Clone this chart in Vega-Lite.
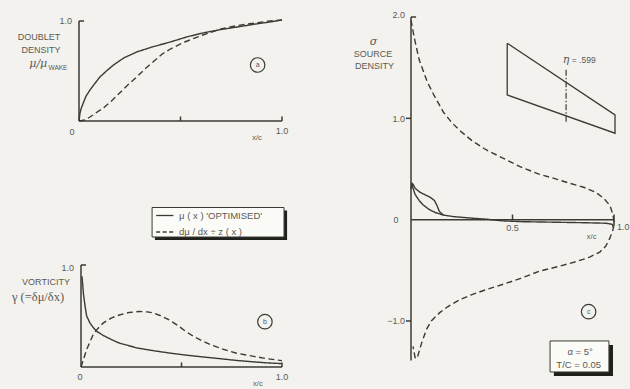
{
  "$schema": "https://vega.github.io/schema/vega-lite/v6.json",
  "width": 630,
  "height": 389,
  "autosize": {"type": "none"},
  "padding": 0,
  "background": "#f3f2ee",
  "config": {
    "view": {"stroke": null},
    "mark": {"color": "#5a5a55"},
    "text": {"font": "Liberation Sans", "fontSize": 9, "color": "#5a5a55", "fill": "#5a5a55"},
    "rule": {"color": "#3b3b34", "strokeWidth": 1.5},
    "line": {"color": "#3b3b34", "strokeWidth": 1.4}
  },
  "resolve": {"scale": {"x": "independent", "y": "independent"}},
  "data": {"values": [{}]},
  "datasets": {
    "doublet": [
      {"x": 0, "y": 0, "series": "optimised"},
      {"x": 0.005, "y": 0.08, "series": "optimised"},
      {"x": 0.01, "y": 0.12, "series": "optimised"},
      {"x": 0.021, "y": 0.18, "series": "optimised"},
      {"x": 0.035, "y": 0.25, "series": "optimised"},
      {"x": 0.054, "y": 0.31, "series": "optimised"},
      {"x": 0.08, "y": 0.38, "series": "optimised"},
      {"x": 0.103, "y": 0.44, "series": "optimised"},
      {"x": 0.135, "y": 0.5, "series": "optimised"},
      {"x": 0.17, "y": 0.56, "series": "optimised"},
      {"x": 0.22, "y": 0.63, "series": "optimised"},
      {"x": 0.284, "y": 0.69, "series": "optimised"},
      {"x": 0.36, "y": 0.74, "series": "optimised"},
      {"x": 0.45, "y": 0.79, "series": "optimised"},
      {"x": 0.53, "y": 0.84, "series": "optimised"},
      {"x": 0.61, "y": 0.88, "series": "optimised"},
      {"x": 0.7, "y": 0.915, "series": "optimised"},
      {"x": 0.78, "y": 0.94, "series": "optimised"},
      {"x": 0.87, "y": 0.97, "series": "optimised"},
      {"x": 0.94, "y": 0.99, "series": "optimised"},
      {"x": 1.0, "y": 1.01, "series": "optimised"},
      {"x": 0, "y": 0, "series": "dmu_dx"},
      {"x": 0.03, "y": 0.01, "series": "dmu_dx"},
      {"x": 0.054, "y": 0.04, "series": "dmu_dx"},
      {"x": 0.09, "y": 0.09, "series": "dmu_dx"},
      {"x": 0.12, "y": 0.13, "series": "dmu_dx"},
      {"x": 0.16, "y": 0.2, "series": "dmu_dx"},
      {"x": 0.2, "y": 0.28, "series": "dmu_dx"},
      {"x": 0.24, "y": 0.36, "series": "dmu_dx"},
      {"x": 0.284, "y": 0.44, "series": "dmu_dx"},
      {"x": 0.33, "y": 0.53, "series": "dmu_dx"},
      {"x": 0.37, "y": 0.6, "series": "dmu_dx"},
      {"x": 0.41, "y": 0.67, "series": "dmu_dx"},
      {"x": 0.45, "y": 0.72, "series": "dmu_dx"},
      {"x": 0.52, "y": 0.79, "series": "dmu_dx"},
      {"x": 0.61, "y": 0.86, "series": "dmu_dx"},
      {"x": 0.7, "y": 0.92, "series": "dmu_dx"},
      {"x": 0.78, "y": 0.955, "series": "dmu_dx"},
      {"x": 0.87, "y": 0.98, "series": "dmu_dx"},
      {"x": 0.94, "y": 1.0, "series": "dmu_dx"},
      {"x": 1.0, "y": 1.01, "series": "dmu_dx"}
    ],
    "vorticity": [
      {"x": 0.005, "y": 0.89, "series": "optimised"},
      {"x": 0.008, "y": 0.82, "series": "optimised"},
      {"x": 0.012, "y": 0.72, "series": "optimised"},
      {"x": 0.02, "y": 0.6, "series": "optimised"},
      {"x": 0.028, "y": 0.5, "series": "optimised"},
      {"x": 0.045, "y": 0.43, "series": "optimised"},
      {"x": 0.06, "y": 0.39, "series": "optimised"},
      {"x": 0.078, "y": 0.35, "series": "optimised"},
      {"x": 0.11, "y": 0.31, "series": "optimised"},
      {"x": 0.15, "y": 0.27, "series": "optimised"},
      {"x": 0.19, "y": 0.235, "series": "optimised"},
      {"x": 0.28, "y": 0.186, "series": "optimised"},
      {"x": 0.36, "y": 0.16, "series": "optimised"},
      {"x": 0.44, "y": 0.137, "series": "optimised"},
      {"x": 0.52, "y": 0.117, "series": "optimised"},
      {"x": 0.61, "y": 0.098, "series": "optimised"},
      {"x": 0.69, "y": 0.082, "series": "optimised"},
      {"x": 0.77, "y": 0.065, "series": "optimised"},
      {"x": 0.86, "y": 0.05, "series": "optimised"},
      {"x": 0.93, "y": 0.04, "series": "optimised"},
      {"x": 1.0, "y": 0.033, "series": "optimised"},
      {"x": 0, "y": 0, "series": "dmu_dx"},
      {"x": 0.015, "y": 0.09, "series": "dmu_dx"},
      {"x": 0.028, "y": 0.17, "series": "dmu_dx"},
      {"x": 0.045, "y": 0.25, "series": "dmu_dx"},
      {"x": 0.061, "y": 0.32, "series": "dmu_dx"},
      {"x": 0.085, "y": 0.38, "series": "dmu_dx"},
      {"x": 0.11, "y": 0.43, "series": "dmu_dx"},
      {"x": 0.15, "y": 0.48, "series": "dmu_dx"},
      {"x": 0.19, "y": 0.51, "series": "dmu_dx"},
      {"x": 0.24, "y": 0.535, "series": "dmu_dx"},
      {"x": 0.29, "y": 0.544, "series": "dmu_dx"},
      {"x": 0.33, "y": 0.54, "series": "dmu_dx"},
      {"x": 0.36, "y": 0.53, "series": "dmu_dx"},
      {"x": 0.4, "y": 0.5, "series": "dmu_dx"},
      {"x": 0.44, "y": 0.46, "series": "dmu_dx"},
      {"x": 0.48, "y": 0.41, "series": "dmu_dx"},
      {"x": 0.52, "y": 0.35, "series": "dmu_dx"},
      {"x": 0.56, "y": 0.3, "series": "dmu_dx"},
      {"x": 0.61, "y": 0.25, "series": "dmu_dx"},
      {"x": 0.65, "y": 0.215, "series": "dmu_dx"},
      {"x": 0.69, "y": 0.186, "series": "dmu_dx"},
      {"x": 0.73, "y": 0.16, "series": "dmu_dx"},
      {"x": 0.77, "y": 0.137, "series": "dmu_dx"},
      {"x": 0.86, "y": 0.104, "series": "dmu_dx"},
      {"x": 0.93, "y": 0.08, "series": "dmu_dx"},
      {"x": 1.0, "y": 0.062, "series": "dmu_dx"}
    ],
    "source": [
      {"i": 1, "x": 0.0, "y": 1.97, "series": "dmu_dx"},
      {"i": 2, "x": 0.01, "y": 1.86, "series": "dmu_dx"},
      {"i": 3, "x": 0.02, "y": 1.76, "series": "dmu_dx"},
      {"i": 4, "x": 0.04, "y": 1.58, "series": "dmu_dx"},
      {"i": 5, "x": 0.06, "y": 1.47, "series": "dmu_dx"},
      {"i": 6, "x": 0.08, "y": 1.36, "series": "dmu_dx"},
      {"i": 7, "x": 0.11, "y": 1.24, "series": "dmu_dx"},
      {"i": 8, "x": 0.16, "y": 1.06, "series": "dmu_dx"},
      {"i": 9, "x": 0.2, "y": 0.96, "series": "dmu_dx"},
      {"i": 10, "x": 0.24, "y": 0.88, "series": "dmu_dx"},
      {"i": 11, "x": 0.3, "y": 0.78, "series": "dmu_dx"},
      {"i": 12, "x": 0.37, "y": 0.69, "series": "dmu_dx"},
      {"i": 13, "x": 0.45, "y": 0.61, "series": "dmu_dx"},
      {"i": 14, "x": 0.54, "y": 0.52, "series": "dmu_dx"},
      {"i": 15, "x": 0.63, "y": 0.45, "series": "dmu_dx"},
      {"i": 16, "x": 0.7, "y": 0.41, "series": "dmu_dx"},
      {"i": 17, "x": 0.78, "y": 0.36, "series": "dmu_dx"},
      {"i": 18, "x": 0.85, "y": 0.32, "series": "dmu_dx"},
      {"i": 19, "x": 0.91, "y": 0.27, "series": "dmu_dx"},
      {"i": 20, "x": 0.95, "y": 0.21, "series": "dmu_dx"},
      {"i": 21, "x": 0.98, "y": 0.14, "series": "dmu_dx"},
      {"i": 22, "x": 0.995, "y": 0.05, "series": "dmu_dx"},
      {"i": 23, "x": 1.0, "y": -0.02, "series": "dmu_dx"},
      {"i": 24, "x": 0.995, "y": -0.1, "series": "dmu_dx"},
      {"i": 25, "x": 0.98, "y": -0.18, "series": "dmu_dx"},
      {"i": 26, "x": 0.96, "y": -0.26, "series": "dmu_dx"},
      {"i": 27, "x": 0.93, "y": -0.32, "series": "dmu_dx"},
      {"i": 28, "x": 0.88, "y": -0.37, "series": "dmu_dx"},
      {"i": 29, "x": 0.82, "y": -0.41, "series": "dmu_dx"},
      {"i": 30, "x": 0.73, "y": -0.46, "series": "dmu_dx"},
      {"i": 31, "x": 0.63, "y": -0.51, "series": "dmu_dx"},
      {"i": 32, "x": 0.54, "y": -0.58, "series": "dmu_dx"},
      {"i": 33, "x": 0.45, "y": -0.64, "series": "dmu_dx"},
      {"i": 34, "x": 0.37, "y": -0.69, "series": "dmu_dx"},
      {"i": 35, "x": 0.3, "y": -0.74, "series": "dmu_dx"},
      {"i": 36, "x": 0.24, "y": -0.79, "series": "dmu_dx"},
      {"i": 37, "x": 0.18, "y": -0.86, "series": "dmu_dx"},
      {"i": 38, "x": 0.14, "y": -0.92, "series": "dmu_dx"},
      {"i": 39, "x": 0.1, "y": -1.0, "series": "dmu_dx"},
      {"i": 40, "x": 0.077, "y": -1.08, "series": "dmu_dx"},
      {"i": 41, "x": 0.055, "y": -1.2, "series": "dmu_dx"},
      {"i": 42, "x": 0.04, "y": -1.3, "series": "dmu_dx"},
      {"i": 43, "x": 0.03, "y": -1.37, "series": "dmu_dx"},
      {"i": 44, "x": 0.02, "y": -1.36, "series": "dmu_dx"},
      {"i": 45, "x": 0.01, "y": -1.25, "series": "dmu_dx"},
      {"i": 1, "x": 0.0, "y": 0.3, "series": "optimised"},
      {"i": 2, "x": 0.004, "y": 0.36, "series": "optimised"},
      {"i": 3, "x": 0.01, "y": 0.35, "series": "optimised"},
      {"i": 4, "x": 0.02, "y": 0.31, "series": "optimised"},
      {"i": 5, "x": 0.045, "y": 0.27, "series": "optimised"},
      {"i": 6, "x": 0.07, "y": 0.245, "series": "optimised"},
      {"i": 7, "x": 0.095, "y": 0.22, "series": "optimised"},
      {"i": 8, "x": 0.115, "y": 0.19, "series": "optimised"},
      {"i": 9, "x": 0.128, "y": 0.14, "series": "optimised"},
      {"i": 10, "x": 0.14, "y": 0.08, "series": "optimised"},
      {"i": 11, "x": 0.16, "y": 0.045, "series": "optimised"},
      {"i": 12, "x": 0.21, "y": 0.03, "series": "optimised"},
      {"i": 13, "x": 0.3, "y": 0.015, "series": "optimised"},
      {"i": 14, "x": 0.37, "y": 0.005, "series": "optimised"},
      {"i": 15, "x": 0.45, "y": -0.012, "series": "optimised"},
      {"i": 16, "x": 0.55, "y": -0.02, "series": "optimised"},
      {"i": 17, "x": 0.7, "y": -0.025, "series": "optimised"},
      {"i": 18, "x": 0.85, "y": -0.03, "series": "optimised"},
      {"i": 19, "x": 0.96, "y": -0.035, "series": "optimised"},
      {"i": 20, "x": 0.99, "y": -0.045, "series": "optimised"},
      {"i": 21, "x": 1.0, "y": -0.08, "series": "optimised"},
      {"i": 1, "x": 0.004, "y": 0.36, "series": "optimised_b"},
      {"i": 2, "x": 0.01, "y": 0.31, "series": "optimised_b"},
      {"i": 3, "x": 0.02, "y": 0.25, "series": "optimised_b"},
      {"i": 4, "x": 0.04, "y": 0.19, "series": "optimised_b"},
      {"i": 5, "x": 0.06, "y": 0.145, "series": "optimised_b"},
      {"i": 6, "x": 0.09, "y": 0.1, "series": "optimised_b"},
      {"i": 7, "x": 0.12, "y": 0.07, "series": "optimised_b"},
      {"i": 8, "x": 0.16, "y": 0.045, "series": "optimised_b"}
    ],
    "planform": [
      {"i": 1, "x": 0.474, "y": 1.741},
      {"i": 2, "x": 1.005, "y": 1.034},
      {"i": 3, "x": 1.005, "y": 0.853},
      {"i": 4, "x": 0.474, "y": 1.231},
      {"i": 5, "x": 0.474, "y": 1.741}
    ]
  },
  "layer": [
    {"data": {"name": "doublet"}, "mark": {"type": "line"},
     "encoding": {
       "x": {"field": "x", "type": "quantitative", "scale": {"domain": [0, 1], "range": [79, 282], "nice": false}, "axis": null},
       "y": {"field": "y", "type": "quantitative", "scale": {"domain": [0, 1], "range": [121, 21], "nice": false}, "axis": null},
       "strokeDash": {"field": "series", "type": "nominal", "scale": {"domain": ["optimised", "dmu_dx"], "range": [[1, 0], [6, 3.5]]}, "legend": null}}},
    {"mark": {"type": "rule"},
     "encoding": {
       "x": {"datum": 0, "type": "quantitative", "scale": {"domain": [0, 1], "range": [79, 282], "nice": false}, "axis": null},
       "y": {"datum": 0, "type": "quantitative", "scale": {"domain": [0, 1], "range": [121, 21], "nice": false}, "axis": null},
       "y2": {"datum": 1}}},
    {"mark": {"type": "rule"},
     "encoding": {
       "x": {"datum": 0, "type": "quantitative", "scale": {"domain": [0, 1], "range": [79, 282], "nice": false}, "axis": null},
       "x2": {"datum": 1},
       "y": {"datum": 0, "type": "quantitative", "scale": {"domain": [0, 1], "range": [121, 21], "nice": false}, "axis": null}}},
    {"mark": {"type": "rule"},
     "encoding": {
       "x": {"datum": 0, "type": "quantitative", "scale": {"domain": [0, 1], "range": [79, 282], "nice": false}, "axis": null},
       "x2": {"datum": 0.025},
       "y": {"datum": 1, "type": "quantitative", "scale": {"domain": [0, 1], "range": [121, 21], "nice": false}, "axis": null}}},
    {"data": {"values": [{"t": 0.5}, {"t": 1.0}]}, "mark": {"type": "rule"},
     "encoding": {
       "x": {"field": "t", "type": "quantitative", "scale": {"domain": [0, 1], "range": [79, 282], "nice": false}, "axis": null},
       "y": {"datum": 0, "type": "quantitative", "scale": {"domain": [0, 1], "range": [121, 21], "nice": false}, "axis": null},
       "y2": {"datum": 0.045}}},
    {"mark": {"type": "text", "text": "1.0", "align": "right", "baseline": "middle"},
     "encoding": {
       "x": {"datum": -0.035, "type": "quantitative", "scale": {"domain": [0, 1], "range": [79, 282], "nice": false}, "axis": null},
       "y": {"datum": 1.0, "type": "quantitative", "scale": {"domain": [0, 1], "range": [121, 21], "nice": false}, "axis": null}}},
    {"mark": {"type": "text", "text": "DOUBLET", "align": "center", "baseline": "middle", "fontSize": 9},
     "encoding": {
       "x": {"datum": -0.197, "type": "quantitative", "scale": {"domain": [0, 1], "range": [79, 282], "nice": false}, "axis": null},
       "y": {"datum": 0.84, "type": "quantitative", "scale": {"domain": [0, 1], "range": [121, 21], "nice": false}, "axis": null}}},
    {"mark": {"type": "text", "text": "DENSITY", "align": "center", "baseline": "middle", "fontSize": 9},
     "encoding": {
       "x": {"datum": -0.187, "type": "quantitative", "scale": {"domain": [0, 1], "range": [79, 282], "nice": false}, "axis": null},
       "y": {"datum": 0.71, "type": "quantitative", "scale": {"domain": [0, 1], "range": [121, 21], "nice": false}, "axis": null}}},
    {"mark": {"type": "text", "text": "μ/μ", "align": "left", "baseline": "middle", "font": "DejaVu Serif", "fontStyle": "italic", "fontSize": 11},
     "encoding": {
       "x": {"datum": -0.245, "type": "quantitative", "scale": {"domain": [0, 1], "range": [79, 282], "nice": false}, "axis": null},
       "y": {"datum": 0.57, "type": "quantitative", "scale": {"domain": [0, 1], "range": [121, 21], "nice": false}, "axis": null}}},
    {"mark": {"type": "text", "text": "WAKE", "align": "left", "baseline": "middle", "fontSize": 6.5},
     "encoding": {
       "x": {"datum": -0.15, "type": "quantitative", "scale": {"domain": [0, 1], "range": [79, 282], "nice": false}, "axis": null},
       "y": {"datum": 0.535, "type": "quantitative", "scale": {"domain": [0, 1], "range": [121, 21], "nice": false}, "axis": null}}},
    {"mark": {"type": "text", "text": "0", "align": "center", "baseline": "middle"},
     "encoding": {
       "x": {"datum": -0.034, "type": "quantitative", "scale": {"domain": [0, 1], "range": [79, 282], "nice": false}, "axis": null},
       "y": {"datum": -0.11, "type": "quantitative", "scale": {"domain": [0, 1], "range": [121, 21], "nice": false}, "axis": null}}},
    {"mark": {"type": "text", "text": "1.0", "align": "center", "baseline": "middle"},
     "encoding": {
       "x": {"datum": 1.0, "type": "quantitative", "scale": {"domain": [0, 1], "range": [79, 282], "nice": false}, "axis": null},
       "y": {"datum": -0.1, "type": "quantitative", "scale": {"domain": [0, 1], "range": [121, 21], "nice": false}, "axis": null}}},
    {"mark": {"type": "text", "text": "x/c", "align": "center", "baseline": "middle", "fontSize": 7.5},
     "encoding": {
       "x": {"datum": 0.877, "type": "quantitative", "scale": {"domain": [0, 1], "range": [79, 282], "nice": false}, "axis": null},
       "y": {"datum": -0.17, "type": "quantitative", "scale": {"domain": [0, 1], "range": [121, 21], "nice": false}, "axis": null}}},
    {"mark": {"type": "point", "shape": "circle", "filled": false, "size": 210, "color": "#3b3b34", "strokeWidth": 1.2, "opacity": 1},
     "encoding": {
       "x": {"datum": 0.88, "type": "quantitative", "scale": {"domain": [0, 1], "range": [79, 282], "nice": false}, "axis": null},
       "y": {"datum": 0.56, "type": "quantitative", "scale": {"domain": [0, 1], "range": [121, 21], "nice": false}, "axis": null}}},
    {"mark": {"type": "text", "text": "a", "align": "center", "baseline": "middle", "fontSize": 7},
     "encoding": {
       "x": {"datum": 0.88, "type": "quantitative", "scale": {"domain": [0, 1], "range": [79, 282], "nice": false}, "axis": null},
       "y": {"datum": 0.56, "type": "quantitative", "scale": {"domain": [0, 1], "range": [121, 21], "nice": false}, "axis": null}}},

    {"mark": {"type": "rect", "color": "#1f1f1c"},
     "encoding": {
       "x": {"datum": 0.374, "type": "quantitative", "scale": {"domain": [0, 1], "range": [79, 282], "nice": false}, "axis": null},
       "x2": {"datum": 1.025},
       "y": {"datum": -0.895, "type": "quantitative", "scale": {"domain": [0, 1], "range": [121, 21], "nice": false}, "axis": null},
       "y2": {"datum": -1.19}}},
    {"mark": {"type": "rect", "fill": "#fbfbf8", "stroke": "#3b3b34", "strokeWidth": 1},
     "encoding": {
       "x": {"datum": 0.36, "type": "quantitative", "scale": {"domain": [0, 1], "range": [79, 282], "nice": false}, "axis": null},
       "x2": {"datum": 1.01},
       "y": {"datum": -0.865, "type": "quantitative", "scale": {"domain": [0, 1], "range": [121, 21], "nice": false}, "axis": null},
       "y2": {"datum": -1.16}}},
    {"mark": {"type": "rule", "strokeWidth": 1.3},
     "encoding": {
       "x": {"datum": 0.38, "type": "quantitative", "scale": {"domain": [0, 1], "range": [79, 282], "nice": false}, "axis": null},
       "x2": {"datum": 0.465},
       "y": {"datum": -0.945, "type": "quantitative", "scale": {"domain": [0, 1], "range": [121, 21], "nice": false}, "axis": null}}},
    {"mark": {"type": "rule", "strokeWidth": 1.3, "strokeDash": [4, 2.5]},
     "encoding": {
       "x": {"datum": 0.38, "type": "quantitative", "scale": {"domain": [0, 1], "range": [79, 282], "nice": false}, "axis": null},
       "x2": {"datum": 0.475},
       "y": {"datum": -1.11, "type": "quantitative", "scale": {"domain": [0, 1], "range": [121, 21], "nice": false}, "axis": null}}},
    {"mark": {"type": "text", "text": "μ ( x )   'OPTIMISED'", "align": "left", "baseline": "middle", "fontSize": 9.5},
     "encoding": {
       "x": {"datum": 0.493, "type": "quantitative", "scale": {"domain": [0, 1], "range": [79, 282], "nice": false}, "axis": null},
       "y": {"datum": -0.945, "type": "quantitative", "scale": {"domain": [0, 1], "range": [121, 21], "nice": false}, "axis": null}}},
    {"mark": {"type": "text", "text": "dμ / dx  ÷  z ( x )", "align": "left", "baseline": "middle", "fontSize": 9.5},
     "encoding": {
       "x": {"datum": 0.493, "type": "quantitative", "scale": {"domain": [0, 1], "range": [79, 282], "nice": false}, "axis": null},
       "y": {"datum": -1.11, "type": "quantitative", "scale": {"domain": [0, 1], "range": [121, 21], "nice": false}, "axis": null}}},

    {"data": {"name": "vorticity"}, "mark": {"type": "line"},
     "encoding": {
       "x": {"field": "x", "type": "quantitative", "scale": {"domain": [0, 1], "range": [81, 282], "nice": false}, "axis": null},
       "y": {"field": "y", "type": "quantitative", "scale": {"domain": [0, 1], "range": [367, 265], "nice": false}, "axis": null},
       "strokeDash": {"field": "series", "type": "nominal", "scale": {"domain": ["optimised", "dmu_dx"], "range": [[1, 0], [6, 3.5]]}, "legend": null}}},
    {"mark": {"type": "rule"},
     "encoding": {
       "x": {"datum": 0, "type": "quantitative", "scale": {"domain": [0, 1], "range": [81, 282], "nice": false}, "axis": null},
       "y": {"datum": 0, "type": "quantitative", "scale": {"domain": [0, 1], "range": [367, 265], "nice": false}, "axis": null},
       "y2": {"datum": 1}}},
    {"mark": {"type": "rule"},
     "encoding": {
       "x": {"datum": 0, "type": "quantitative", "scale": {"domain": [0, 1], "range": [81, 282], "nice": false}, "axis": null},
       "x2": {"datum": 1},
       "y": {"datum": 0, "type": "quantitative", "scale": {"domain": [0, 1], "range": [367, 265], "nice": false}, "axis": null}}},
    {"mark": {"type": "rule"},
     "encoding": {
       "x": {"datum": 0, "type": "quantitative", "scale": {"domain": [0, 1], "range": [81, 282], "nice": false}, "axis": null},
       "x2": {"datum": 0.025},
       "y": {"datum": 1, "type": "quantitative", "scale": {"domain": [0, 1], "range": [367, 265], "nice": false}, "axis": null}}},
    {"data": {"values": [{"t": 0.5}, {"t": 1.0}]}, "mark": {"type": "rule"},
     "encoding": {
       "x": {"field": "t", "type": "quantitative", "scale": {"domain": [0, 1], "range": [81, 282], "nice": false}, "axis": null},
       "y": {"datum": 0, "type": "quantitative", "scale": {"domain": [0, 1], "range": [367, 265], "nice": false}, "axis": null},
       "y2": {"datum": 0.045}}},
    {"mark": {"type": "text", "text": "1.0", "align": "right", "baseline": "middle"},
     "encoding": {
       "x": {"datum": -0.035, "type": "quantitative", "scale": {"domain": [0, 1], "range": [81, 282], "nice": false}, "axis": null},
       "y": {"datum": 0.97, "type": "quantitative", "scale": {"domain": [0, 1], "range": [367, 265], "nice": false}, "axis": null}}},
    {"mark": {"type": "text", "text": "VORTICITY", "align": "center", "baseline": "middle", "fontSize": 9},
     "encoding": {
       "x": {"datum": -0.174, "type": "quantitative", "scale": {"domain": [0, 1], "range": [81, 282], "nice": false}, "axis": null},
       "y": {"datum": 0.83, "type": "quantitative", "scale": {"domain": [0, 1], "range": [367, 265], "nice": false}, "axis": null}}},
    {"mark": {"type": "text", "text": "γ (=δμ/δx)", "align": "center", "baseline": "middle", "font": "Liberation Serif", "fontSize": 12.5},
     "encoding": {
       "x": {"datum": -0.214, "type": "quantitative", "scale": {"domain": [0, 1], "range": [81, 282], "nice": false}, "axis": null},
       "y": {"datum": 0.69, "type": "quantitative", "scale": {"domain": [0, 1], "range": [367, 265], "nice": false}, "axis": null}}},
    {"mark": {"type": "text", "text": "0", "align": "center", "baseline": "middle"},
     "encoding": {
       "x": {"datum": -0.005, "type": "quantitative", "scale": {"domain": [0, 1], "range": [81, 282], "nice": false}, "axis": null},
       "y": {"datum": -0.095, "type": "quantitative", "scale": {"domain": [0, 1], "range": [367, 265], "nice": false}, "axis": null}}},
    {"mark": {"type": "text", "text": "1.0", "align": "center", "baseline": "middle"},
     "encoding": {
       "x": {"datum": 1.0, "type": "quantitative", "scale": {"domain": [0, 1], "range": [81, 282], "nice": false}, "axis": null},
       "y": {"datum": -0.095, "type": "quantitative", "scale": {"domain": [0, 1], "range": [367, 265], "nice": false}, "axis": null}}},
    {"mark": {"type": "text", "text": "x/c", "align": "center", "baseline": "middle", "fontSize": 7.5},
     "encoding": {
       "x": {"datum": 0.88, "type": "quantitative", "scale": {"domain": [0, 1], "range": [81, 282], "nice": false}, "axis": null},
       "y": {"datum": -0.165, "type": "quantitative", "scale": {"domain": [0, 1], "range": [367, 265], "nice": false}, "axis": null}}},
    {"mark": {"type": "point", "shape": "circle", "filled": false, "size": 210, "color": "#3b3b34", "strokeWidth": 1.2, "opacity": 1},
     "encoding": {
       "x": {"datum": 0.915, "type": "quantitative", "scale": {"domain": [0, 1], "range": [81, 282], "nice": false}, "axis": null},
       "y": {"datum": 0.444, "type": "quantitative", "scale": {"domain": [0, 1], "range": [367, 265], "nice": false}, "axis": null}}},
    {"mark": {"type": "text", "text": "b", "align": "center", "baseline": "middle", "fontSize": 7},
     "encoding": {
       "x": {"datum": 0.915, "type": "quantitative", "scale": {"domain": [0, 1], "range": [81, 282], "nice": false}, "axis": null},
       "y": {"datum": 0.444, "type": "quantitative", "scale": {"domain": [0, 1], "range": [367, 265], "nice": false}, "axis": null}}},

    {"data": {"name": "source"}, "mark": {"type": "line"},
     "encoding": {
       "x": {"field": "x", "type": "quantitative", "scale": {"domain": [0, 1], "range": [411, 614], "nice": false}, "axis": null},
       "y": {"field": "y", "type": "quantitative", "scale": {"domain": [-1, 2], "range": [321, 17], "nice": false}, "axis": null},
       "order": {"field": "i", "type": "quantitative"},
       "strokeDash": {"field": "series", "type": "nominal", "scale": {"domain": ["optimised", "optimised_b", "dmu_dx"], "range": [[1, 0], [1, 0], [6, 3.5]]}, "legend": null}}},
    {"data": {"name": "planform"}, "mark": {"type": "line", "strokeWidth": 1.3},
     "encoding": {
       "x": {"field": "x", "type": "quantitative", "scale": {"domain": [0, 1], "range": [411, 614], "nice": false}, "axis": null},
       "y": {"field": "y", "type": "quantitative", "scale": {"domain": [-1, 2], "range": [321, 17], "nice": false}, "axis": null},
       "order": {"field": "i", "type": "quantitative"}}},
    {"mark": {"type": "rule", "strokeWidth": 1.2, "strokeDash": [6, 2, 1.5, 2]},
     "encoding": {
       "x": {"datum": 0.764, "type": "quantitative", "scale": {"domain": [0, 1], "range": [411, 614], "nice": false}, "axis": null},
       "y": {"datum": 0.967, "type": "quantitative", "scale": {"domain": [-1, 2], "range": [321, 17], "nice": false}, "axis": null},
       "y2": {"datum": 1.5}}},
    {"mark": {"type": "text", "text": "η", "align": "center", "baseline": "middle", "font": "DejaVu Serif", "fontStyle": "italic", "fontSize": 11},
     "encoding": {
       "x": {"datum": 0.764, "type": "quantitative", "scale": {"domain": [0, 1], "range": [411, 614], "nice": false}, "axis": null},
       "y": {"datum": 1.575, "type": "quantitative", "scale": {"domain": [-1, 2], "range": [321, 17], "nice": false}, "axis": null}}},
    {"mark": {"type": "text", "text": "= .599", "align": "left", "baseline": "middle", "fontSize": 8.5},
     "encoding": {
       "x": {"datum": 0.792, "type": "quantitative", "scale": {"domain": [0, 1], "range": [411, 614], "nice": false}, "axis": null},
       "y": {"datum": 1.575, "type": "quantitative", "scale": {"domain": [-1, 2], "range": [321, 17], "nice": false}, "axis": null}}},
    {"mark": {"type": "rule"},
     "encoding": {
       "x": {"datum": 0, "type": "quantitative", "scale": {"domain": [0, 1], "range": [411, 614], "nice": false}, "axis": null},
       "y": {"datum": -1.39, "type": "quantitative", "scale": {"domain": [-1, 2], "range": [321, 17], "nice": false}, "axis": null},
       "y2": {"datum": 2}}},
    {"mark": {"type": "rule"},
     "encoding": {
       "x": {"datum": 0, "type": "quantitative", "scale": {"domain": [0, 1], "range": [411, 614], "nice": false}, "axis": null},
       "x2": {"datum": 1},
       "y": {"datum": 0, "type": "quantitative", "scale": {"domain": [-1, 2], "range": [321, 17], "nice": false}, "axis": null}}},
    {"mark": {"type": "rule"},
     "encoding": {
       "x": {"datum": 0, "type": "quantitative", "scale": {"domain": [0, 1], "range": [411, 614], "nice": false}, "axis": null},
       "x2": {"datum": 0.025},
       "y": {"datum": 2, "type": "quantitative", "scale": {"domain": [-1, 2], "range": [321, 17], "nice": false}, "axis": null}}},
    {"data": {"values": [{"t": 1.0}, {"t": -1.0}]}, "mark": {"type": "rule"},
     "encoding": {
       "x": {"datum": -0.025, "type": "quantitative", "scale": {"domain": [0, 1], "range": [411, 614], "nice": false}, "axis": null},
       "x2": {"datum": 0},
       "y": {"field": "t", "type": "quantitative", "scale": {"domain": [-1, 2], "range": [321, 17], "nice": false}, "axis": null}}},
    {"mark": {"type": "rule"},
     "encoding": {
       "x": {"datum": 0.5, "type": "quantitative", "scale": {"domain": [0, 1], "range": [411, 614], "nice": false}, "axis": null},
       "y": {"datum": 0, "type": "quantitative", "scale": {"domain": [-1, 2], "range": [321, 17], "nice": false}, "axis": null},
       "y2": {"datum": 0.05}}},
    {"mark": {"type": "rule"},
     "encoding": {
       "x": {"datum": 1.0, "type": "quantitative", "scale": {"domain": [0, 1], "range": [411, 614], "nice": false}, "axis": null},
       "y": {"datum": -0.06, "type": "quantitative", "scale": {"domain": [-1, 2], "range": [321, 17], "nice": false}, "axis": null},
       "y2": {"datum": 0.05}}},
    {"mark": {"type": "text", "text": "2.0", "align": "right", "baseline": "middle"},
     "encoding": {
       "x": {"datum": -0.03, "type": "quantitative", "scale": {"domain": [0, 1], "range": [411, 614], "nice": false}, "axis": null},
       "y": {"datum": 2.02, "type": "quantitative", "scale": {"domain": [-1, 2], "range": [321, 17], "nice": false}, "axis": null}}},
    {"mark": {"type": "text", "text": "σ", "align": "center", "baseline": "middle", "font": "DejaVu Serif", "fontStyle": "italic", "fontSize": 11},
     "encoding": {
       "x": {"datum": -0.185, "type": "quantitative", "scale": {"domain": [0, 1], "range": [411, 614], "nice": false}, "axis": null},
       "y": {"datum": 1.757, "type": "quantitative", "scale": {"domain": [-1, 2], "range": [321, 17], "nice": false}, "axis": null}}},
    {"mark": {"type": "text", "text": "SOURCE", "align": "center", "baseline": "middle", "fontSize": 9},
     "encoding": {
       "x": {"datum": -0.187, "type": "quantitative", "scale": {"domain": [0, 1], "range": [411, 614], "nice": false}, "axis": null},
       "y": {"datum": 1.633, "type": "quantitative", "scale": {"domain": [-1, 2], "range": [321, 17], "nice": false}, "axis": null}}},
    {"mark": {"type": "text", "text": "DENSITY", "align": "center", "baseline": "middle", "fontSize": 9},
     "encoding": {
       "x": {"datum": -0.18, "type": "quantitative", "scale": {"domain": [0, 1], "range": [411, 614], "nice": false}, "axis": null},
       "y": {"datum": 1.517, "type": "quantitative", "scale": {"domain": [-1, 2], "range": [321, 17], "nice": false}, "axis": null}}},
    {"mark": {"type": "text", "text": "1.0", "align": "right", "baseline": "middle"},
     "encoding": {
       "x": {"datum": -0.03, "type": "quantitative", "scale": {"domain": [0, 1], "range": [411, 614], "nice": false}, "axis": null},
       "y": {"datum": 0.994, "type": "quantitative", "scale": {"domain": [-1, 2], "range": [321, 17], "nice": false}, "axis": null}}},
    {"mark": {"type": "text", "text": "0", "align": "center", "baseline": "middle"},
     "encoding": {
       "x": {"datum": -0.074, "type": "quantitative", "scale": {"domain": [0, 1], "range": [411, 614], "nice": false}, "axis": null},
       "y": {"datum": 0.0, "type": "quantitative", "scale": {"domain": [-1, 2], "range": [321, 17], "nice": false}, "axis": null}}},
    {"mark": {"type": "text", "text": "−1.0", "align": "right", "baseline": "middle"},
     "encoding": {
       "x": {"datum": -0.03, "type": "quantitative", "scale": {"domain": [0, 1], "range": [411, 614], "nice": false}, "axis": null},
       "y": {"datum": -1.0, "type": "quantitative", "scale": {"domain": [-1, 2], "range": [321, 17], "nice": false}, "axis": null}}},
    {"mark": {"type": "text", "text": "0.5", "align": "center", "baseline": "middle"},
     "encoding": {
       "x": {"datum": 0.5, "type": "quantitative", "scale": {"domain": [0, 1], "range": [411, 614], "nice": false}, "axis": null},
       "y": {"datum": -0.085, "type": "quantitative", "scale": {"domain": [-1, 2], "range": [321, 17], "nice": false}, "axis": null}}},
    {"mark": {"type": "text", "text": "1.0", "align": "center", "baseline": "middle"},
     "encoding": {
       "x": {"datum": 1.045, "type": "quantitative", "scale": {"domain": [0, 1], "range": [411, 614], "nice": false}, "axis": null},
       "y": {"datum": -0.075, "type": "quantitative", "scale": {"domain": [-1, 2], "range": [321, 17], "nice": false}, "axis": null}}},
    {"mark": {"type": "text", "text": "x/c", "align": "center", "baseline": "middle", "fontSize": 7.5},
     "encoding": {
       "x": {"datum": 0.89, "type": "quantitative", "scale": {"domain": [0, 1], "range": [411, 614], "nice": false}, "axis": null},
       "y": {"datum": -0.17, "type": "quantitative", "scale": {"domain": [-1, 2], "range": [321, 17], "nice": false}, "axis": null}}},
    {"mark": {"type": "point", "shape": "circle", "filled": false, "size": 210, "color": "#3b3b34", "strokeWidth": 1.2, "opacity": 1},
     "encoding": {
       "x": {"datum": 0.875, "type": "quantitative", "scale": {"domain": [0, 1], "range": [411, 614], "nice": false}, "axis": null},
       "y": {"datum": -0.908, "type": "quantitative", "scale": {"domain": [-1, 2], "range": [321, 17], "nice": false}, "axis": null}}},
    {"mark": {"type": "text", "text": "c", "align": "center", "baseline": "middle", "fontSize": 7},
     "encoding": {
       "x": {"datum": 0.875, "type": "quantitative", "scale": {"domain": [0, 1], "range": [411, 614], "nice": false}, "axis": null},
       "y": {"datum": -0.908, "type": "quantitative", "scale": {"domain": [-1, 2], "range": [321, 17], "nice": false}, "axis": null}}},
    {"mark": {"type": "rect", "color": "#1f1f1c"},
     "encoding": {
       "x": {"datum": 0.704, "type": "quantitative", "scale": {"domain": [0, 1], "range": [411, 614], "nice": false}, "axis": null},
       "x2": {"datum": 0.995},
       "y": {"datum": -1.237, "type": "quantitative", "scale": {"domain": [-1, 2], "range": [321, 17], "nice": false}, "axis": null},
       "y2": {"datum": -1.543}}},
    {"mark": {"type": "rect", "fill": "#fbfbf8", "stroke": "#3b3b34", "strokeWidth": 1},
     "encoding": {
       "x": {"datum": 0.685, "type": "quantitative", "scale": {"domain": [0, 1], "range": [411, 614], "nice": false}, "axis": null},
       "x2": {"datum": 0.975},
       "y": {"datum": -1.197, "type": "quantitative", "scale": {"domain": [-1, 2], "range": [321, 17], "nice": false}, "axis": null},
       "y2": {"datum": -1.503}}},
    {"mark": {"type": "text", "text": "α = 5°", "align": "center", "baseline": "middle", "fontSize": 9.5},
     "encoding": {
       "x": {"datum": 0.833, "type": "quantitative", "scale": {"domain": [0, 1], "range": [411, 614], "nice": false}, "axis": null},
       "y": {"datum": -1.31, "type": "quantitative", "scale": {"domain": [-1, 2], "range": [321, 17], "nice": false}, "axis": null}}},
    {"mark": {"type": "text", "text": "T/C = 0.05", "align": "center", "baseline": "middle", "fontSize": 9.5},
     "encoding": {
       "x": {"datum": 0.826, "type": "quantitative", "scale": {"domain": [0, 1], "range": [411, 614], "nice": false}, "axis": null},
       "y": {"datum": -1.43, "type": "quantitative", "scale": {"domain": [-1, 2], "range": [321, 17], "nice": false}, "axis": null}}}
  ]
}
